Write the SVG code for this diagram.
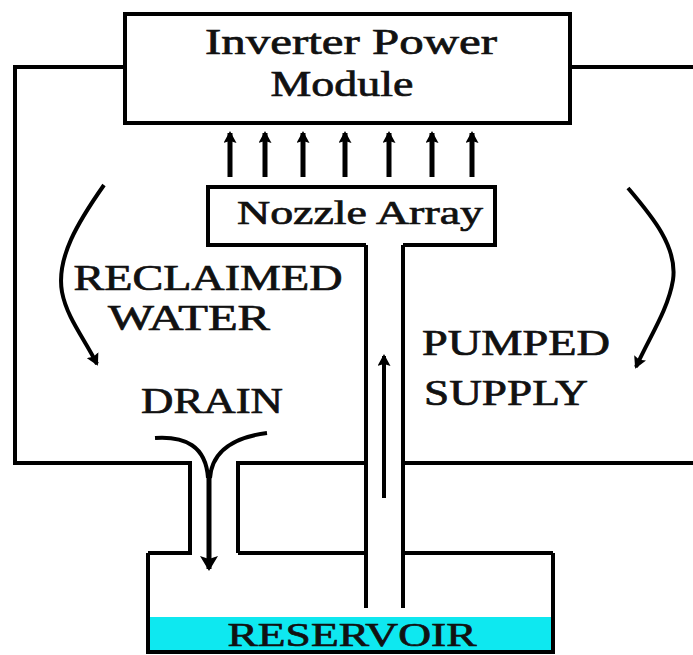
<svg xmlns="http://www.w3.org/2000/svg" width="693" height="655" viewBox="0 0 693 655">
<style>
.ln{fill:none;stroke:#000;stroke-width:4}
.thin{fill:none;stroke:#000;stroke-width:4}
.box{fill:#fff;stroke:#000;stroke-width:4}
.t{font-family:"Liberation Serif","Times New Roman",serif;fill:#111;stroke:#111;stroke-width:0.7}
</style>
<defs>
<marker id="ah" markerUnits="userSpaceOnUse" markerWidth="12" markerHeight="13" viewBox="0 0 12 13" refX="10" refY="6.5" orient="auto">
<path d="M12,6.5 L0,0 L2,6.5 L0,13 Z" fill="#000"/>
</marker>
<marker id="ahb" markerUnits="userSpaceOnUse" markerWidth="15" markerHeight="18" viewBox="0 0 15 18" refX="13" refY="9" orient="auto">
<path d="M15,9 L0,0 L3,9 L0,18 Z" fill="#000"/>
</marker>
</defs>
<rect width="693" height="655" fill="#fff"/>
<g id="connectors">
<path class="ln" d="M125,67 H15 V463 H190 V553 H148"/>
<path class="ln" d="M570,67 H693"/>
<path class="ln" d="M238,553 V463 H366"/>
<path class="ln" d="M238,553 H366"/>
<path class="ln" d="M366,245 V608"/>
<path class="ln" d="M403,245 V608"/>
<path class="ln" d="M403,463 H693"/>
<path class="ln" d="M403,553 H553"/>
<g class="thin">
<path d="M230,177 V133" stroke-width="5" marker-end="url(#ah)"/>
<path d="M265,177 V133" stroke-width="5" marker-end="url(#ah)"/>
<path d="M303,177 V133" stroke-width="5" marker-end="url(#ah)"/>
<path d="M345,177 V133" stroke-width="5" marker-end="url(#ah)"/>
<path d="M389,177 V133" stroke-width="5" marker-end="url(#ah)"/>
<path d="M432,177 V133" stroke-width="5" marker-end="url(#ah)"/>
<path d="M472,177 V133" stroke-width="5" marker-end="url(#ah)"/>
<path d="M384,498 V356" marker-end="url(#ah)"/>
<path d="M104,185 C78,222 56,258 62,292 C67,318 84,338 97,364" marker-end="url(#ah)"/>
<path d="M628,188 C650,214 678,246 673,280 C668,310 650,336 636,367" marker-end="url(#ah)"/>
<path d="M155,438 C185,436 206,446 208,478"/>
<path d="M267,433 C236,437 212,450 210,478"/>
<path d="M209,470 V569" stroke-width="5" marker-end="url(#ahb)"/>
</g>
</g>
<g id="inverter">
<rect class="box" x="125" y="14" width="445" height="109"/>
<text class="t" x="351" y="54" font-size="36" text-anchor="middle" textLength="292" lengthAdjust="spacingAndGlyphs">Inverter Power</text>
<text class="t" x="342" y="96" font-size="36" text-anchor="middle" textLength="143" lengthAdjust="spacingAndGlyphs">Module</text>
</g>
<g id="nozzle">
<path class="box" d="M366,245 H208 V187 H495 V245 H403"/>
<text class="t" x="360" y="224" font-size="34" text-anchor="middle" textLength="246" lengthAdjust="spacingAndGlyphs">Nozzle Array</text>
</g>
<g id="reservoir">
<rect x="150" y="617" width="401" height="34" fill="#0ee8f0"/>
<path class="ln" d="M148,553 V652 H553 V553"/>
<text class="t" x="352" y="646" font-size="34" text-anchor="middle" textLength="249" lengthAdjust="spacingAndGlyphs" fill="#063a3a" stroke="#063a3a">RESERVOIR</text>
</g>
<g id="labels">
<text class="t" x="208" y="290" font-size="35" text-anchor="middle" textLength="269" lengthAdjust="spacingAndGlyphs">RECLAIMED</text>
<text class="t" x="189" y="330" font-size="35" text-anchor="middle" textLength="162" lengthAdjust="spacingAndGlyphs">WATER</text>
<text class="t" x="516" y="355" font-size="35" text-anchor="middle" textLength="188" lengthAdjust="spacingAndGlyphs">PUMPED</text>
<text class="t" x="506" y="405" font-size="35" text-anchor="middle" textLength="164" lengthAdjust="spacingAndGlyphs">SUPPLY</text>
<text class="t" x="212" y="413" font-size="35" text-anchor="middle" textLength="142" lengthAdjust="spacingAndGlyphs">DRAIN</text>
</g>
</svg>
